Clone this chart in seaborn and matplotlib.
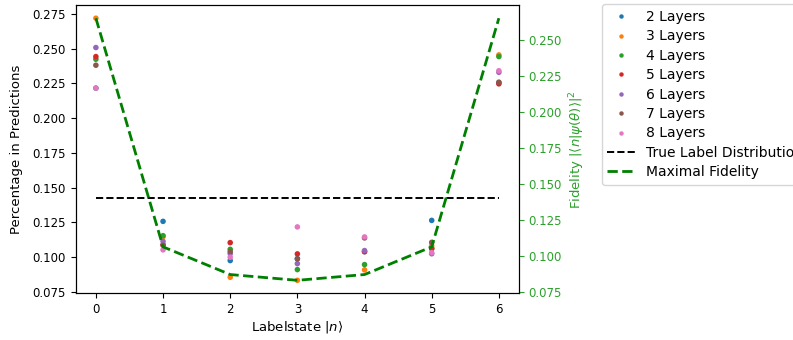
import numpy as np
import pandas as pd
import matplotlib
matplotlib.use("Agg")
import matplotlib.pyplot as plt
import seaborn as sns

plt.rcParams['font.family'] = ['DejaVu Sans']
plt.rcParams['font.size'] = 8.5

states = [0, 1, 2, 3, 4, 5, 6]
layer_names = ["2 Layers", "3 Layers", "4 Layers", "5 Layers", "6 Layers", "7 Layers", "8 Layers"]
pct_2 = [0.2216, 0.1258, 0.0976, 0.0990, 0.1040, 0.1265, 0.2255]
pct_3 = [0.2719, 0.1148, 0.0856, 0.0834, 0.0909, 0.1083, 0.2455]
pct_4 = [0.2424, 0.1155, 0.1057, 0.0911, 0.0947, 0.1063, 0.2443]
pct_5 = [0.2443, 0.1090, 0.1105, 0.1024, 0.1040, 0.1062, 0.2247]
pct_6 = [0.2508, 0.1114, 0.1025, 0.0954, 0.1048, 0.1025, 0.2330]
pct_7 = [0.2381, 0.1086, 0.1040, 0.0988, 0.1139, 0.1107, 0.2259]
pct_8 = [0.2216, 0.1053, 0.1000, 0.1218, 0.1146, 0.1033, 0.2341]
true_label = 1 / 7
fidelity = [0.2650, 0.1065, 0.0873, 0.0833, 0.0873, 0.1065, 0.2650]

all_pct = [pct_2, pct_3, pct_4, pct_5, pct_6, pct_7, pct_8]
rows = []
for name, vals in zip(layer_names, all_pct):
    for s, v in zip(states, vals):
        rows.append({"state": s, "pct": v, "layer": name})
df = pd.DataFrame(rows)

fig = plt.figure(figsize=(7.93, 3.40), dpi=100)
ax = fig.add_axes([0.0955, 0.137, 0.559, 0.848])
ax2 = ax.twinx()

palette = sns.color_palette("tab10", 7)
sns.scatterplot(data=df, x="state", y="pct", hue="layer", hue_order=layer_names,
                palette=palette, s=16, edgecolor="none", linewidth=0, ax=ax)
sns.lineplot(x=[states[0], states[-1]], y=[true_label, true_label], color="black",
             linestyle="--", linewidth=1.4, label="True Label Distribution", ax=ax)
sns.lineplot(x=states, y=fidelity, color="green", linestyle="--", linewidth=2.0,
             label="Maximal Fidelity", ax=ax2)

ax.set_xlabel(r"Labelstate $|n\rangle$", fontsize=9.5, labelpad=2)
ax.set_ylabel("Percentage in Predictions", fontsize=9.5, labelpad=7)
ax2.set_ylabel(r"Fidelity $|\langle n|\psi(\theta)\rangle|^2$", color="#2ca02c", fontsize=9.5)
ax2.tick_params(axis="y", colors="#2ca02c")
ax2.spines["right"].set_color("black")

h1, l1 = ax.get_legend_handles_labels()
h2, l2 = ax2.get_legend_handles_labels()
if ax.get_legend() is not None:
    ax.get_legend().remove()
if ax2.get_legend() is not None:
    ax2.get_legend().remove()
fig.legend(h1 + h2, l1 + l2, loc="upper left", bbox_to_anchor=(0.759, 0.987),
           borderaxespad=0, handlelength=2.0, markerscale=0.8,
           fontsize=10, labelspacing=0.39)

fig.savefig("out.png", dpi=100)
